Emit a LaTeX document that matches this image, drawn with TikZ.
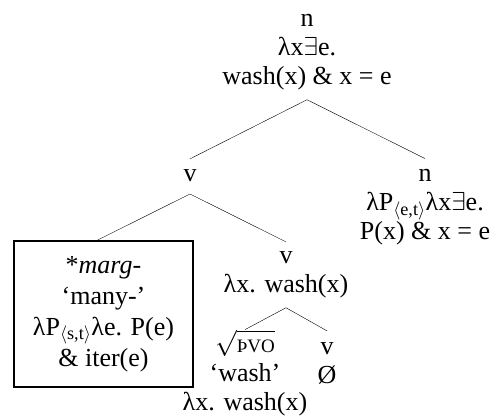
\RequirePackage{fix-cm}
\documentclass[tikz,border=0pt]{standalone}
\usepackage{amsmath}
\usepackage{fontspec}
\setmainfont{Liberation Serif}

\begin{document}
\begin{tikzpicture}[x=1pt,y=-1pt,
    lbl/.style={inner sep=0pt, align=center, anchor=base, font=\fontsize{26}{29}\selectfont},
    mbox/.style={draw, line width=1.8pt, inner sep=0pt, minimum width=179pt, minimum height=146pt, align=center, font=\fontsize{26}{31}\selectfont}]
    \useasboundingbox (0,0) rectangle (497,419);

    % Baum (anchor base = letzte Zeile)
    \node[lbl] (n0) at (307,85) {n\\ λx$\exists$e.\\ wash(x) \& x = e};
    \node[lbl] (v1) at (190,182) {v};
    \node[lbl] (n1) at (425,240) {n\\ λP$_{\langle\text{e,t}\rangle}$λx$\exists$e.\\ P(x) \& x = e};
    \node[mbox] (mg) at (103.5,314) {*\textit{marg}-\\ ‘many-’\\ λP$_{\langle\text{s,t}\rangle}$λe. P(e)\\ \& iter(e)};
    \node[lbl] (v2) at (286,292) {v\\ λx. wash(x)};
    \node[lbl] (rt) at (245,410) {$\sqrt{\rule[-2pt]{0pt}{18pt}\text{\fontsize{19}{20}\selectfont ÞVO}}$\\ ‘wash’\\ λx. wash(x)};
    \node[lbl] (v3) at (327,383) {v\\ Ø};

    % Äste
    \draw ([yshift=-9pt]n0.south) -- ([yshift=11pt]v1.north);
    \draw ([yshift=-9pt]n0.south) -- ([yshift=11pt]n1.north);
    \draw ([yshift=-12pt]v1.base) -- ([xshift=-6pt]mg.north);
    \draw ([yshift=-12pt]v1.base) -- ([yshift=9pt]v2.north);
    \draw ([yshift=-10pt]v2.south) -- ([yshift=0pt]rt.north);
    \draw ([yshift=-10pt]v2.south) -- ([yshift=11pt]v3.north);
\end{tikzpicture}
\end{document}
